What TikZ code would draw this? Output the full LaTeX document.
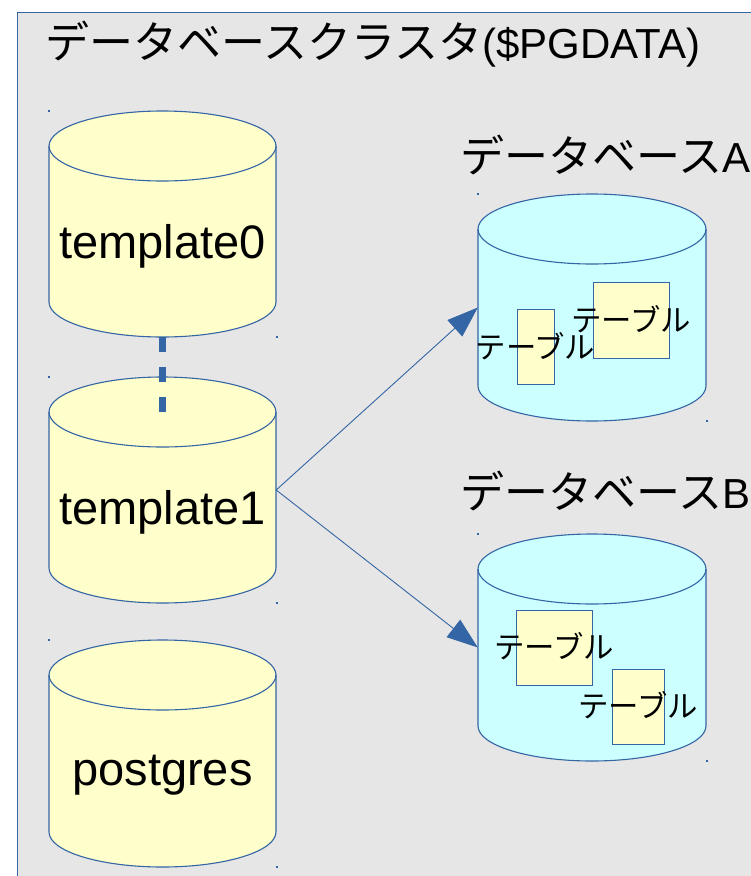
\documentclass[tikz,border=0pt]{standalone}
\usepackage{fontspec}
\setmainfont{Liberation Sans}
\newfontfamily\jp[Scale=1.048]{Noto Sans CJK JP}
\usetikzlibrary{arrows.meta}
\definecolor{edge}{HTML}{3465A4}
\definecolor{bg}{HTML}{E6E6E6}
\definecolor{yel}{HTML}{FFFFCC}
\definecolor{cyn}{HTML}{CCFFFF}
\tikzset{
  cylline/.style={draw=edge, line width=1.1pt},
  tablebox/.style={draw=edge, line width=1pt, fill=yel, inner sep=0pt},
  conn/.style={draw=edge, line width=0.9pt, -{Triangle[length=31pt, width=22pt]}},
  dashconn/.style={draw=edge, line width=7pt, dash pattern=on 15pt off 15pt},
  bigtext/.style={font=\fontsize{42}{50}\selectfont, inner sep=0pt, anchor=base west},
  dblabel/.style={font=\fontsize{47}{56}\selectfont, inner sep=0pt, anchor=base},
  tbllabel/.style={font=\jp\fontsize{29}{34}\selectfont, inner sep=0pt, anchor=base},
  corner/.style={fill=edge, inner sep=0pt, minimum size=1.5pt}
}
% name, x0, y0, x1, y1, fill
\newcommand\dbcyl[6]{%
  \pgfmathsetmacro\cylR{(#4-#2)/2}%
  \pgfmathsetmacro\cylW{#4-#2}%
  \pgfmathsetmacro\cylH{#5-#3}%
  \path[fill=#6, cylline]
    (#2,#3+35) -- (#2,#5-35)
    arc[start angle=180, end angle=360, x radius=\cylR pt, y radius=35pt]
    -- (#4,#3+35)
    arc[start angle=0, end angle=180, x radius=\cylR pt, y radius=35pt] -- cycle;
  \draw[cylline] (#2,#3+35)
    arc[start angle=180, end angle=360, x radius=\cylR pt, y radius=35pt];
  \node[inner sep=0pt, minimum width=\cylW pt, minimum height=\cylH pt] (#1) at ({(#2+#4)/2},{(#3+#5)/2}) {};
  \coordinate (#1-top) at ({(#2+#4)/2},#3+35);
  \node[corner] (#1-c1) at (#2,#3) {};
  \node[corner] (#1-c2) at (#4+1,#5) {};
}
\begin{document}
\begin{tikzpicture}[x=1pt, y=-1pt]
\useasboundingbox (0,0) rectangle (751,876);
\clip (0,0) rectangle (751,876);
\path[fill=bg, draw=edge, line width=1pt] (17,12) rectangle (800,920);

\node[bigtext] (title) at (45,58) {{\jp データベースクラスタ}(\$PGDATA)};

% cluster databases
\dbcyl{t0}{49}{111}{276}{337}{yel}
\dbcyl{t1}{49}{377}{276}{603}{yel}
\dbcyl{pg}{49}{640}{276}{867}{yel}
\node[dblabel] (t0l) at (162.5,258) {template0};
\node[dblabel] (t1l) at (162.5,524) {template1};
\node[dblabel] (pgl) at (162.5,785) {postgres};

% database A
\node[bigtext] (hA) at (460,172) {{\jp データベース}A};
\dbcyl{dA}{478}{194}{706}{421}{cyn}
\node[tablebox, minimum width=37pt, minimum height=75pt] (tA1) at (535.5,346.5) {};
\node[tablebox, minimum width=76pt, minimum height=76pt] (tA2) at (631,320) {};
\node[tbllabel] (lA1) at (535.5,358) {テーブル};
\node[tbllabel] (lA2) at (631,331) {テーブル};

% database B
\node[bigtext] (hB) at (460,508) {{\jp データベース}B};
\dbcyl{dB}{478}{534}{706}{761}{cyn}
\node[tablebox, minimum width=76pt, minimum height=75pt] (tB1) at (554,647.5) {};
\node[tablebox, minimum width=52pt, minimum height=75pt] (tB2) at (638,706.5) {};
\node[tbllabel] (lB1) at (554,658) {テーブル};
\node[tbllabel] (lB2) at (638,717) {テーブル};

% connectors
\draw[dashconn] (t0.south) -- (t1-top);
\draw[conn] (t1.east) -- (dA.west);
\draw[conn] (t1.east) -- (dB.west);
\end{tikzpicture}
\end{document}
